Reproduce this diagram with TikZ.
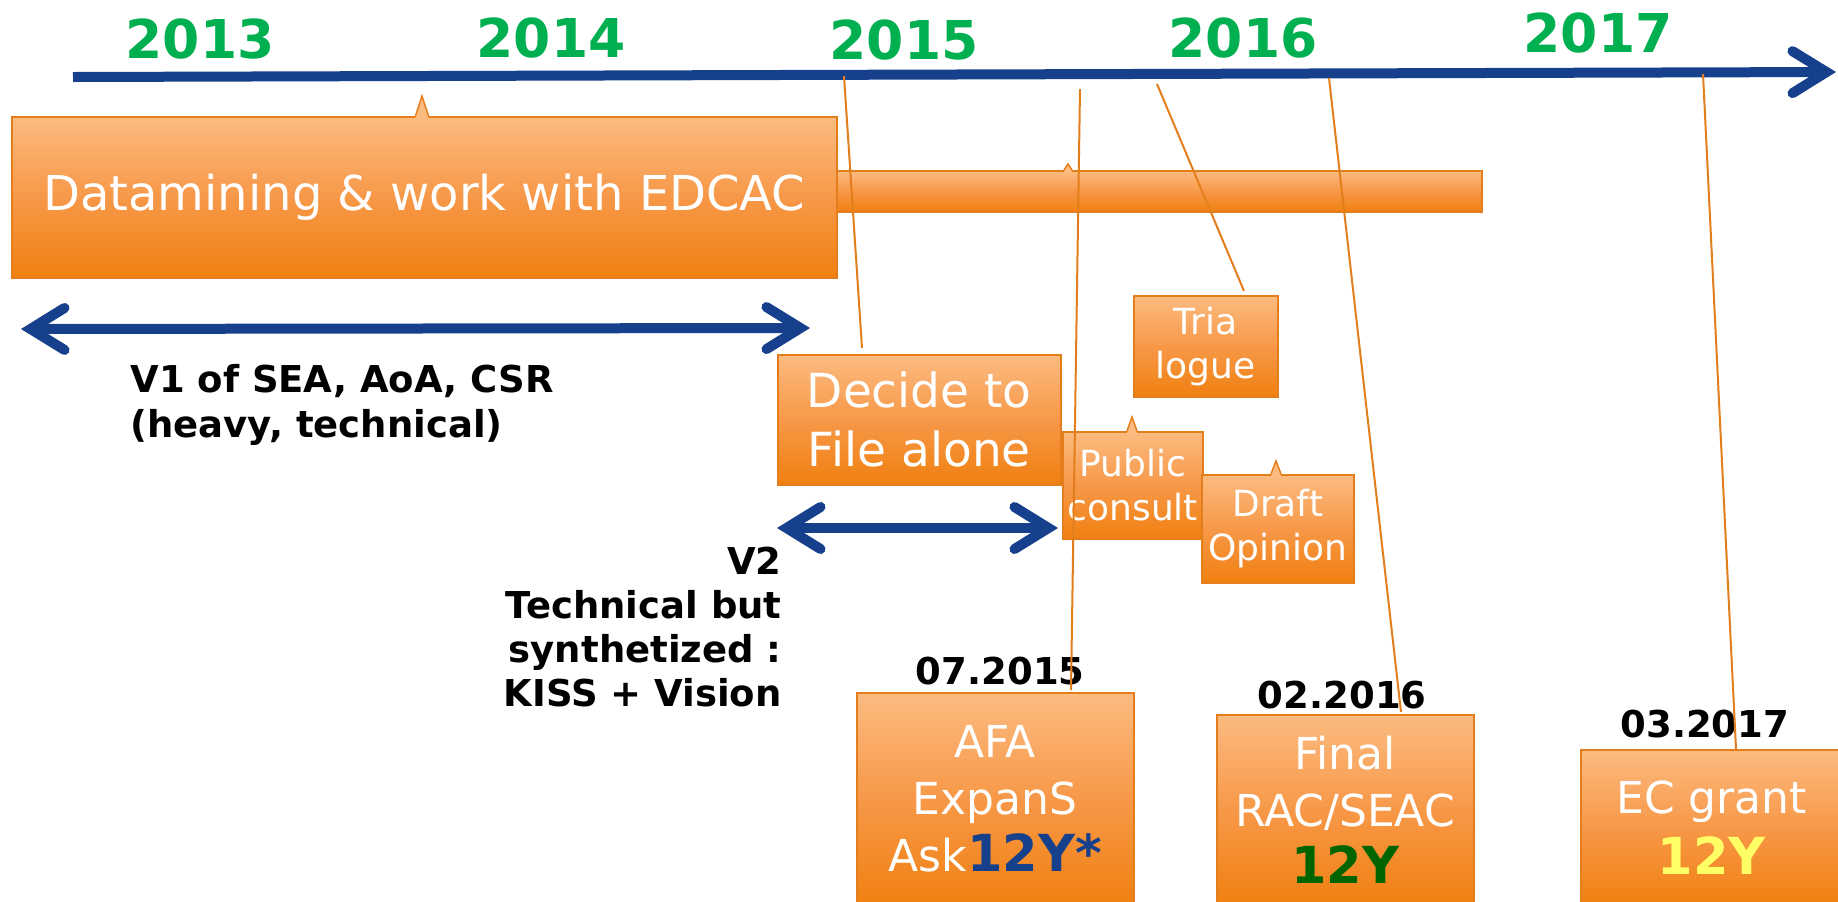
\documentclass[tikz,border=0pt]{standalone}
\usepackage{fontspec}
\setmainfont{DejaVu Sans}
\usetikzlibrary{arrows.meta}
\usetikzlibrary{positioning}

\definecolor{yeargreen}{RGB}{0,176,80}
\definecolor{lineblue}{RGB}{22,64,140}
\definecolor{ortop}{RGB}{252,187,128}
\definecolor{ormid}{RGB}{247,152,72}
\definecolor{orbot}{RGB}{240,128,16}
\definecolor{oredge}{RGB}{228,126,28}
\definecolor{darkgreen}{RGB}{0,100,0}
\definecolor{lightyellow}{RGB}{255,255,102}

% little callout tip on top of a box: x, box top, tip, half width
\newcommand{\notch}[4]{%
  \fill[ortop] (#1-#4,#2+2) -- (#1,#3) -- (#1+#4,#2+2) -- cycle;
  \draw[oredge, line width=0.75pt] (#1-#4,#2) -- (#1,#3) -- (#1+#4,#2);}

\begin{document}
\begin{tikzpicture}[x=0.5pt, y=-0.5pt,
    chev/.tip={Straight Barb[length=17pt,width=21pt,line cap=round,line join=miter]},
    year/.style={text=yeargreen, font=\fontsize{26.75}{32}\selectfont\bfseries, anchor=base},
    bigarrow/.style={lineblue, line width=5pt},
    stepbox/.style={draw=oredge, line width=0.75pt, top color=ortop, bottom color=orbot, middle color=ormid,
      text=white, align=center, inner sep=0pt, anchor=north west},
    small/.style={font=\fontsize{18}{22}\selectfont},
    large/.style={font=\fontsize{22}{28.5}\selectfont},
    datelabel/.style={font=\fontsize{18.5}{22}\selectfont\bfseries, inner sep=0pt},
    note/.style={font=\fontsize{18.5}{22.5}\selectfont\bfseries, inner sep=0pt},
    pointer/.style={oredge, line width=1pt}
  ]
  \path[use as bounding box, fill=white] (0,0) rectangle (1838,901);

  \node[year] (y13) at (200,58) {2013};
  \node[year] (y14) at (551,57) {2014};
  \node[year] (y15) at (904,59) {2015};
  \node[year] (y16) at (1243,57) {2016};
  \node[year] (y17) at (1598,52) {2017};

  \coordinate (tl start) at (73,77);
  \coordinate (tl end) at (1836,72);
  \draw[bigarrow, -chev] (tl start) -- (tl end);

  \coordinate (p15) at (844,76);
  \coordinate (p1507) at (1080,89);
  \coordinate (ptri) at (1157,84);
  \coordinate (p1602) at (1329,78);
  \coordinate (p1703) at (1703,74);

  \node[stepbox, minimum width=322.5pt, minimum height=20.5pt] (bar) at (836,170) {};
  \notch{1068}{170}{164}{4}
  \node[stepbox, minimum width=412.5pt, minimum height=80.5pt, font=\fontsize{24}{29}\selectfont] (data)
    at (11,116) {Datamining \& work with EDCAC};
  \notch{422}{116}{96}{6.5}

  \coordinate (v1 left) at (21,329);
  \coordinate (v1 right) at (810,328);
  \draw[bigarrow, chev-chev] (v1 left) -- (v1 right);
  \node[note, anchor=north west, align=left] (v1) at (130,364) {V1 of SEA, AoA, CSR\\(heavy, technical)};

  \node[stepbox, minimum width=141.5pt, minimum height=65pt, font=\fontsize{23.5}{29.5}\selectfont] (decide)
    at (777,354) {Decide to\\File alone};

  \coordinate (v2 left) at (777,528);
  \coordinate (v2 right) at (1058,528);
  \draw[bigarrow, chev-chev] (v2 left) -- (v2 right);
  \node[note, anchor=north east, align=right, font=\fontsize{18.5}{22}\selectfont\bfseries] (v2)
    at (782,547) {V2\\Technical but\\synthetized :\\KISS + Vision};

  \node[stepbox, small, minimum width=72pt, minimum height=50.5pt] (trilogue) at (1133,295) {Tria\\logue};
  \node[stepbox, small, minimum width=70pt, minimum height=53.5pt] (consult) at (1062,431) {Public\\consult};
  \notch{1132}{431}{417}{5}
  \node[stepbox, small, minimum width=76pt, minimum height=54pt] (opinion) at (1201,474) {Draft\\Opinion};
  \notch{1276}{474}{461}{5}

  \node[stepbox, large, minimum width=138.5pt, minimum height=106.5pt] (ask) at (856,692)
    {AFA\\ExpanS\\Ask{\bfseries\fontsize{25.5}{28.5}\selectfont\color{lineblue}12Y*}};
  \node[stepbox, large, minimum width=128.5pt, minimum height=95.5pt] (final) at (1216,714)
    {Final\\RAC/SEAC\\{\bfseries\fontsize{25.5}{28.5}\selectfont\color{darkgreen}12Y}};
  \node[stepbox, large, minimum width=131pt, minimum height=78pt] (grant) at (1580,749)
    {EC grant\\[2pt]{\bfseries\fontsize{25.5}{28.5}\selectfont\color{lightyellow}12Y}};

  \node[datelabel, above=3.5pt of ask, xshift=2.5pt] (d1507) {07.2015};
  \node[datelabel, above=2.5pt of final, xshift=-1.5pt] (d1602) {02.2016};
  \node[datelabel, above=5.5pt of grant, xshift=-3.5pt] (d1703) {03.2017};

  \draw[pointer] (p15) -- ([xshift=42.5pt,yshift=3pt]decide.north west);
  \draw[pointer] (p1507) -- ([xshift=107.5pt,yshift=1pt]ask.north west);
  \draw[pointer] (ptri) -- ([xshift=55.5pt,yshift=2pt]trilogue.north west);
  \draw[pointer] (p1602) -- ([xshift=92.5pt,yshift=1pt]final.north west);
  \draw[pointer] (p1703) -- ([xshift=78pt]grant.north west);
\end{tikzpicture}
\end{document}
